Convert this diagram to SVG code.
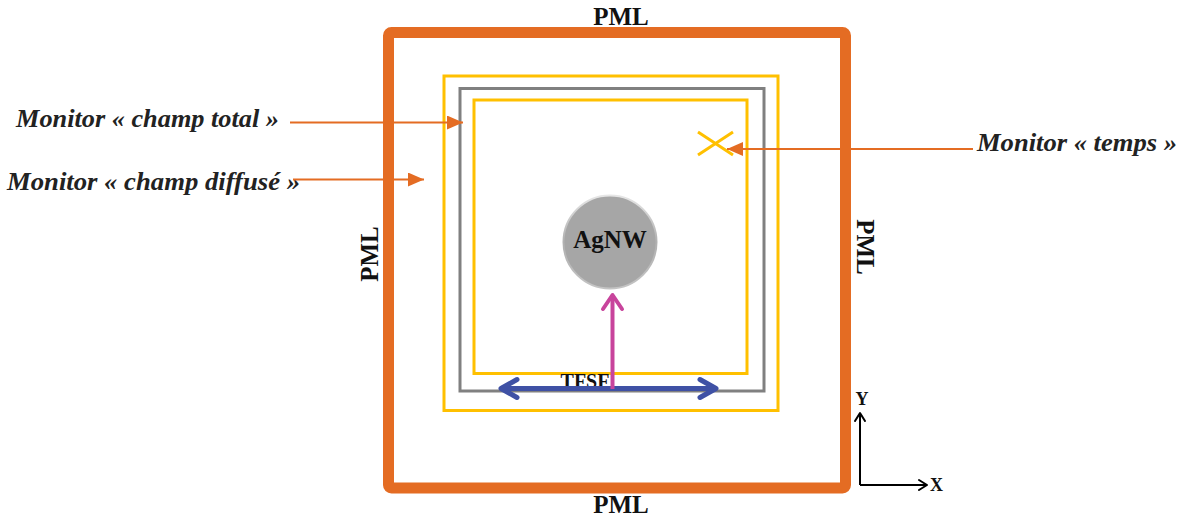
<svg xmlns="http://www.w3.org/2000/svg" width="1184" height="522" viewBox="0 0 1184 522">
<defs>
<style>
.lbl{font-family:"Liberation Serif","Times New Roman",serif;font-weight:bold;fill:#111}
.mon{font-family:"Liberation Serif","Times New Roman",serif;font-weight:bold;font-style:italic;fill:#222;font-size:25px}
.pml{font-size:25px}
.or{stroke:#E46C23;fill:none}
.yl{stroke:#FFC000;fill:none;stroke-width:3}
.gr{stroke:#808080;fill:none;stroke-width:3}
</style>
<marker id="ah" viewBox="0 0 16 14" refX="16" refY="7" markerWidth="16" markerHeight="14" markerUnits="userSpaceOnUse" orient="auto">
<path d="M0,0 L16,7 L0,14 Z" fill="#E46C23"/>
</marker>
<linearGradient id="rim" x1="0" y1="0" x2="0" y2="1">
<stop offset="0" stop-color="#E6E6E6"/>
<stop offset="0.5" stop-color="#B0B0B0"/>
<stop offset="1" stop-color="#C4C4C4"/>
</linearGradient>
</defs>
<rect width="1184" height="522" fill="#fff"/>
<g id="pml">
<rect x="388.5" y="32.5" width="457" height="455.5" rx="3" class="or" stroke-width="11"/>
<text class="lbl pml" x="621" y="25" text-anchor="middle">PML</text>
<text class="lbl pml" x="621" y="513" text-anchor="middle">PML</text>
<text class="lbl pml" text-anchor="middle" transform="translate(378,254) rotate(-90)">PML</text>
<text class="lbl pml" text-anchor="middle" transform="translate(857,247) rotate(90)">PML</text>
</g>
<g id="monitor-diffuse-box">
<rect x="444" y="76" width="334" height="334.5" class="yl"/>
</g>
<g id="monitor-total-box">
<rect x="460" y="88.5" width="304" height="302.5" class="gr"/>
</g>
<g id="tfsf-box">
<rect x="474" y="100" width="273" height="273.5" class="yl"/>
</g>
<g id="agnw">
<circle cx="610" cy="242" r="46.5" fill="#A6A6A6" stroke="url(#rim)" stroke-width="2"/>
<text class="lbl" x="610" y="248" font-size="25" text-anchor="middle">AgNW</text>
</g>
<g id="tfsf">
<text class="lbl" x="585" y="388" font-size="20" text-anchor="middle">TFSF</text>
<path d="M501,388.5 H716" stroke="#3F51A5" stroke-width="5" fill="none"/>
<path d="M517,379.5 L501,388.5 L517,397.5 M700,379.5 L716,388.5 L700,397.5" stroke="#3F51A5" stroke-width="5" fill="none" stroke-linecap="round" stroke-linejoin="round"/>
<path d="M612.5,389 V296" stroke="#C8449C" stroke-width="4" fill="none"/>
<path d="M603,309 L612.5,295 L622,309" stroke="#C8449C" stroke-width="4" fill="none" stroke-linecap="round" stroke-linejoin="round"/>
</g>
<g id="time-monitor">
<path d="M698,132 L733,155 M698,155 L733,132" stroke="#FFC000" stroke-width="3" fill="none"/>
</g>
<g id="axes">
<path d="M860,485 V414 M860,485 H926" stroke="#000" stroke-width="2" fill="none"/>
<path d="M855,421 L860,413 L865,421 M919,480 L927,485 L919,490" stroke="#000" stroke-width="2" fill="none" stroke-linecap="round" stroke-linejoin="round"/>
<text class="lbl" x="862" y="405" font-size="18" text-anchor="middle">Y</text>
<text class="lbl" x="930" y="491" font-size="18">X</text>
</g>
<g id="labels">
<text class="mon" x="16" y="127" textLength="263" lengthAdjust="spacingAndGlyphs">Monitor « champ total »</text>
<text class="mon" x="7" y="190" textLength="293" lengthAdjust="spacingAndGlyphs">Monitor « champ diffusé »</text>
<text class="mon" x="977" y="151" textLength="200" lengthAdjust="spacingAndGlyphs">Monitor « temps »</text>
</g>
<g id="connectors">
<path d="M290,122.5 H463" class="or" stroke-width="2" marker-end="url(#ah)"/>
<path d="M293,179.5 H424" class="or" stroke-width="2" marker-end="url(#ah)"/>
<path d="M973,149 H727" class="or" stroke-width="2" marker-end="url(#ah)"/>
</g>
</svg>
